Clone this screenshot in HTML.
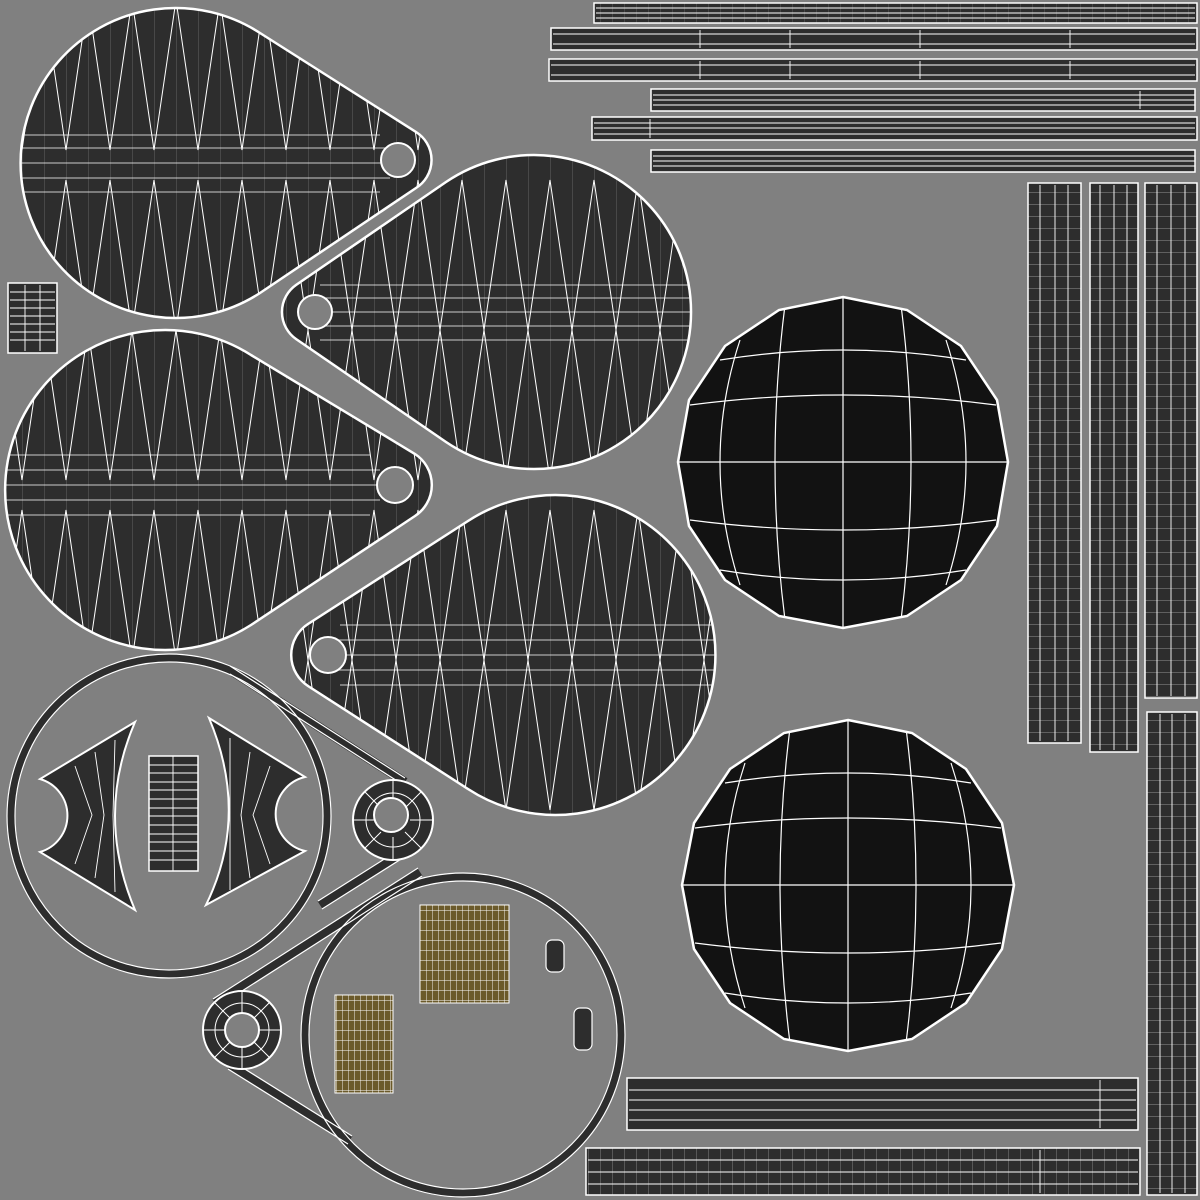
<!DOCTYPE html>
<html><head><meta charset="utf-8"><style>
html,body{margin:0;padding:0;background:#808080;width:1200px;height:1200px;overflow:hidden}
svg{display:block}
</style></head><body>
<svg width="1200" height="1200" viewBox="0 0 1200 1200" xmlns="http://www.w3.org/2000/svg">
<defs>
<pattern id="vl" width="22" height="30" patternUnits="userSpaceOnUse"><path d="M0,0V30" stroke="#fff" stroke-width="0.8" opacity="0.8"/></pattern>
<pattern id="zig" width="44" height="330" patternUnits="userSpaceOnUse"><path d="M0,0L22,150L44,0M0,330L22,180L44,330" stroke="#fff" fill="none" stroke-width="1"/></pattern>
<pattern id="sv" width="12" height="12" patternUnits="userSpaceOnUse"><path d="M0,0V12" stroke="#fff" stroke-width="0.8"/></pattern>
<pattern id="sh" width="12" height="12" patternUnits="userSpaceOnUse"><path d="M0,0H12" stroke="#fff" stroke-width="0.8"/></pattern>
<pattern id="yl" width="6" height="10" patternUnits="userSpaceOnUse"><rect width="6" height="10" fill="#6b5a2a"/><path d="M0,0V10M0,0H6" stroke="#fff" stroke-width="0.9"/></pattern>
<clipPath id="c1"><path d="M260,33 L416,132 A33,33 0 0 1 416,188 L260,293 A155,155 0 1 1 260,33 Z"/></clipPath>
<clipPath id="c2"><path d="M446,182 A157,157 0 1 1 446,442 L296,339 A33,33 0 0 1 296,285 Z"/></clipPath>
<clipPath id="c3"><path d="M251,355 L415,454 A37,37 0 0 1 415,516 L251,625 A160,160 0 1 1 251,355 Z"/></clipPath>
<clipPath id="c4"><path d="M468,521 A160,160 0 1 1 468,789 L308,686 A37,37 0 0 1 308,624 Z"/></clipPath>
<clipPath id="p1"><polygon points="843,297 907,310 961,346 997,400 1008,462 997,526 961,580 907,616 843,628 779,616 725,580 689,526 678,462 689,400 725,346 779,310"/></clipPath>
<clipPath id="p2"><polygon points="848,720 912,733 966,769 1002,823 1014,885 1002,949 966,1003 912,1039 848,1051 784,1039 730,1003 694,949 682,885 694,823 730,769 784,733"/></clipPath>
</defs>

<g stroke="#fff" stroke-width="2.5" fill="#2d2d2d">
<path d="M260,33 L416,132 A33,33 0 0 1 416,188 L260,293 A155,155 0 1 1 260,33 Z"/>
<path d="M446,182 A157,157 0 1 1 446,442 L296,339 A33,33 0 0 1 296,285 Z"/>
<path d="M251,355 L415,454 A37,37 0 0 1 415,516 L251,625 A160,160 0 1 1 251,355 Z"/>
<path d="M468,521 A160,160 0 1 1 468,789 L308,686 A37,37 0 0 1 308,624 Z"/>
</g>
<g clip-path="url(#c1)"><rect x="20" y="0" width="420" height="330" fill="url(#zig)"/><rect x="20" y="0" width="420" height="330" fill="url(#vl)" opacity=".4"/><path d="M20,135H380M20,148H390M20,163H400M20,178H390M20,192H380" stroke="#fff" stroke-width=".8"/></g>
<g clip-path="url(#c2)"><rect x="280" y="150" width="420" height="330" fill="url(#zig)"/><rect x="280" y="150" width="420" height="330" fill="url(#vl)" opacity=".4"/><path d="M320,285H700M310,298H700M300,312H700M310,326H700M320,340H700" stroke="#fff" stroke-width=".8"/></g>
<g clip-path="url(#c3)"><rect x="0" y="325" width="450" height="340" fill="url(#zig)"/><rect x="0" y="325" width="450" height="340" fill="url(#vl)" opacity=".4"/><path d="M0,455H370M0,470H380M0,485H390M0,500H380M0,515H370" stroke="#fff" stroke-width=".8"/></g>
<g clip-path="url(#c4)"><rect x="285" y="490" width="440" height="340" fill="url(#zig)"/><rect x="285" y="490" width="440" height="340" fill="url(#vl)" opacity=".4"/><path d="M340,625H720M330,640H720M320,655H720M330,670H720M340,685H720" stroke="#fff" stroke-width=".8"/></g>
<g fill="#808080" stroke="#fff" stroke-width="2">
<circle cx="398" cy="160" r="17"/><circle cx="315" cy="312" r="17"/><circle cx="395" cy="485" r="18"/><circle cx="328" cy="655" r="18"/>
</g>

<g stroke="#fff" stroke-width="2.5" fill="#121212">
<polygon points="843,297 907,310 961,346 997,400 1008,462 997,526 961,580 907,616 843,628 779,616 725,580 689,526 678,462 689,400 725,346 779,310"/>
<polygon points="848,720 912,733 966,769 1002,823 1014,885 1002,949 966,1003 912,1039 848,1051 784,1039 730,1003 694,949 682,885 694,823 730,769 784,733"/>
</g>
<g clip-path="url(#p1)" stroke="#fff" stroke-width="1.2" fill="none">
<path d="M843,290V635M670,462H1015"/>
<path d="M785,305 Q765,462 785,620 M901,305 Q921,462 901,620"/>
<path d="M690,405 Q843,385 996,405 M690,520 Q843,540 996,520"/>
<path d="M740,340 Q700,462 740,585 M946,340 Q986,462 946,585"/>
<path d="M720,360 Q843,340 966,360 M720,570 Q843,590 966,570"/>
</g>
<g clip-path="url(#p2)" stroke="#fff" stroke-width="1.2" fill="none">
<path d="M848,712V1060M675,885H1020"/>
<path d="M790,728 Q770,885 790,1043 M906,728 Q926,885 906,1043"/>
<path d="M695,828 Q848,808 1001,828 M695,943 Q848,963 1001,943"/>
<path d="M745,763 Q705,885 745,1008 M951,763 Q991,885 951,1008"/>
<path d="M725,783 Q848,763 971,783 M725,993 Q848,1013 971,993"/>
</g>

<g stroke="#fff" stroke-width="1.5">
<rect x="594" y="3" width="603" height="20" fill="#2d2d2d"/>
<rect x="551" y="28" width="646" height="22" fill="#2d2d2d"/>
<rect x="549" y="59" width="648" height="22" fill="#2d2d2d"/>
<rect x="651" y="89" width="544" height="22" fill="#2d2d2d"/>
<rect x="592" y="117" width="605" height="23" fill="#2d2d2d"/>
<rect x="651" y="150" width="544" height="22" fill="#2d2d2d"/>
<rect x="1028" y="183" width="53" height="560" fill="#2d2d2d"/>
<rect x="1090" y="183" width="48" height="569" fill="#2d2d2d"/>
<rect x="1145" y="183" width="52" height="515" fill="#2d2d2d"/>
<rect x="1147" y="712" width="50" height="483" fill="#2d2d2d"/>
<rect x="627" y="1078" width="511" height="52" fill="#2d2d2d"/>
<rect x="586" y="1148" width="554" height="47" fill="#2d2d2d"/>
<rect x="8" y="283" width="49" height="70" fill="#2d2d2d"/>
</g>
<g stroke="#fff" stroke-width="0.9" fill="none">
<path d="M596,8H1195M596,13H1195M596,18H1195M553,34H1195M553,44H1195M551,65H1195M551,75H1195M653,95H1195M653,100H1195M653,105H1195M594,123H1195M594,128H1195M594,134H1195M653,156H1195M653,161H1195M653,166H1195"/>
<path d="M1040,185V741M1055,185V741M1068,185V741M1100,185V750M1114,185V750M1127,185V750M1157,185V696M1171,185V696M1185,185V696M1160,714V1193M1172,714V1193M1185,714V1193"/>
<path d="M629,1090H1136M629,1100H1136M629,1110H1136M629,1120H1136M588,1160H1138M588,1172H1138M588,1184H1138"/>
<path d="M10,292H55M10,300H55M10,308H55M10,316H55M10,324H55M10,332H55M10,340H55M25,285V351M40,285V351"/>
<path d="M700,30V48M790,30V48M920,30V48M1070,30V48M700,61V79M790,61V79M920,61V79M1070,61V79M1140,91V109M650,119V138M1100,1080V1128M1040,1150V1193"/>
</g>
<rect x="1028" y="183" width="53" height="560" fill="url(#sh)" opacity=".6"/>
<rect x="1090" y="183" width="48" height="569" fill="url(#sh)" opacity=".6"/>
<rect x="1145" y="183" width="52" height="515" fill="url(#sh)" opacity=".6"/>
<rect x="1147" y="712" width="50" height="483" fill="url(#sh)" opacity=".6"/>
<rect x="594" y="3" width="603" height="20" fill="url(#sv)" opacity=".3"/>
<rect x="586" y="1148" width="554" height="47" fill="url(#sv)" opacity=".5"/>

<g fill="none">
<g stroke="#2d2d2d" stroke-width="9">
<circle cx="169" cy="816" r="158"/>
<circle cx="463" cy="1035" r="158"/>
<path d="M230,670 L405,782 M320,905 L415,845 M215,1003 L420,872 M230,1065 L350,1140"/>
</g>
<g stroke="#fff" stroke-width="1.2">
<circle cx="169" cy="816" r="154"/><circle cx="169" cy="816" r="162"/>
<circle cx="463" cy="1035" r="154"/><circle cx="463" cy="1035" r="162"/>
<path d="M230,666 L405,778 M230,674 L405,786 M318,901 L413,841 M322,909 L417,849 M213,999 L418,868 M217,1007 L422,876 M228,1069 L348,1144 M232,1061 L352,1136"/>
</g>
</g>
<g stroke="#fff" stroke-width="2" fill="#2d2d2d">
<circle cx="393" cy="820" r="40"/><circle cx="242" cy="1030" r="39"/>
</g>
<g stroke="#fff" stroke-width="1" fill="none">
<circle cx="393" cy="820" r="27"/><circle cx="242" cy="1030" r="27"/>
<path d="M393,780V803M393,837V860M353,820H376M410,820H433M365,792L381,808M421,792L405,808M365,848L381,832M421,848L405,832M242,991V1013M242,1047V1069M203,1030H225M259,1030H281M214,1002L230,1018M270,1002L254,1018M214,1058L230,1042M270,1058L254,1042"/>
</g>
<g stroke="#fff" stroke-width="2" fill="#808080">
<circle cx="391" cy="815" r="17"/><circle cx="242" cy="1030" r="17"/>
</g>

<g stroke="#fff" stroke-width="2" fill="#2d2d2d">
<path d="M135,722 Q95,815 135,910 L40,852 A38,38 0 0 0 40,779 Z"/>
<path d="M209,718 Q250,815 206,905 L305,851 A38,38 0 0 1 305,777 Z"/>
</g>
<g stroke="#fff" stroke-width=".9" fill="none">
<path d="M75,766L92,815L75,864M95,752L104,815L95,878M115,740L113,815L115,892"/>
<path d="M270,766L253,815L270,864M250,752L241,815L250,878M230,738L230,815L230,890"/>
</g>
<rect x="149" y="756" width="49" height="115" fill="#2d2d2d" stroke="#fff" stroke-width="1.5"/>
<path d="M173,756V871M149,765H198M149,773H198M149,782H198M149,790H198M149,799H198M149,808H198M149,816H198M149,825H198M149,834H198M149,842H198M149,851H198M149,860H198" stroke="#fff" stroke-width=".9" fill="none"/>

<rect x="420" y="905" width="89" height="98" fill="url(#yl)" stroke="#fff" stroke-width="1"/>
<rect x="335" y="995" width="58" height="98" fill="url(#yl)" stroke="#fff" stroke-width="1"/>
<g fill="#2d2d2d" stroke="#fff" stroke-width="1.2">
<rect x="546" y="940" width="18" height="32" rx="6"/>
<rect x="574" y="1008" width="18" height="42" rx="6"/>
</g>
</svg>
</body></html>
